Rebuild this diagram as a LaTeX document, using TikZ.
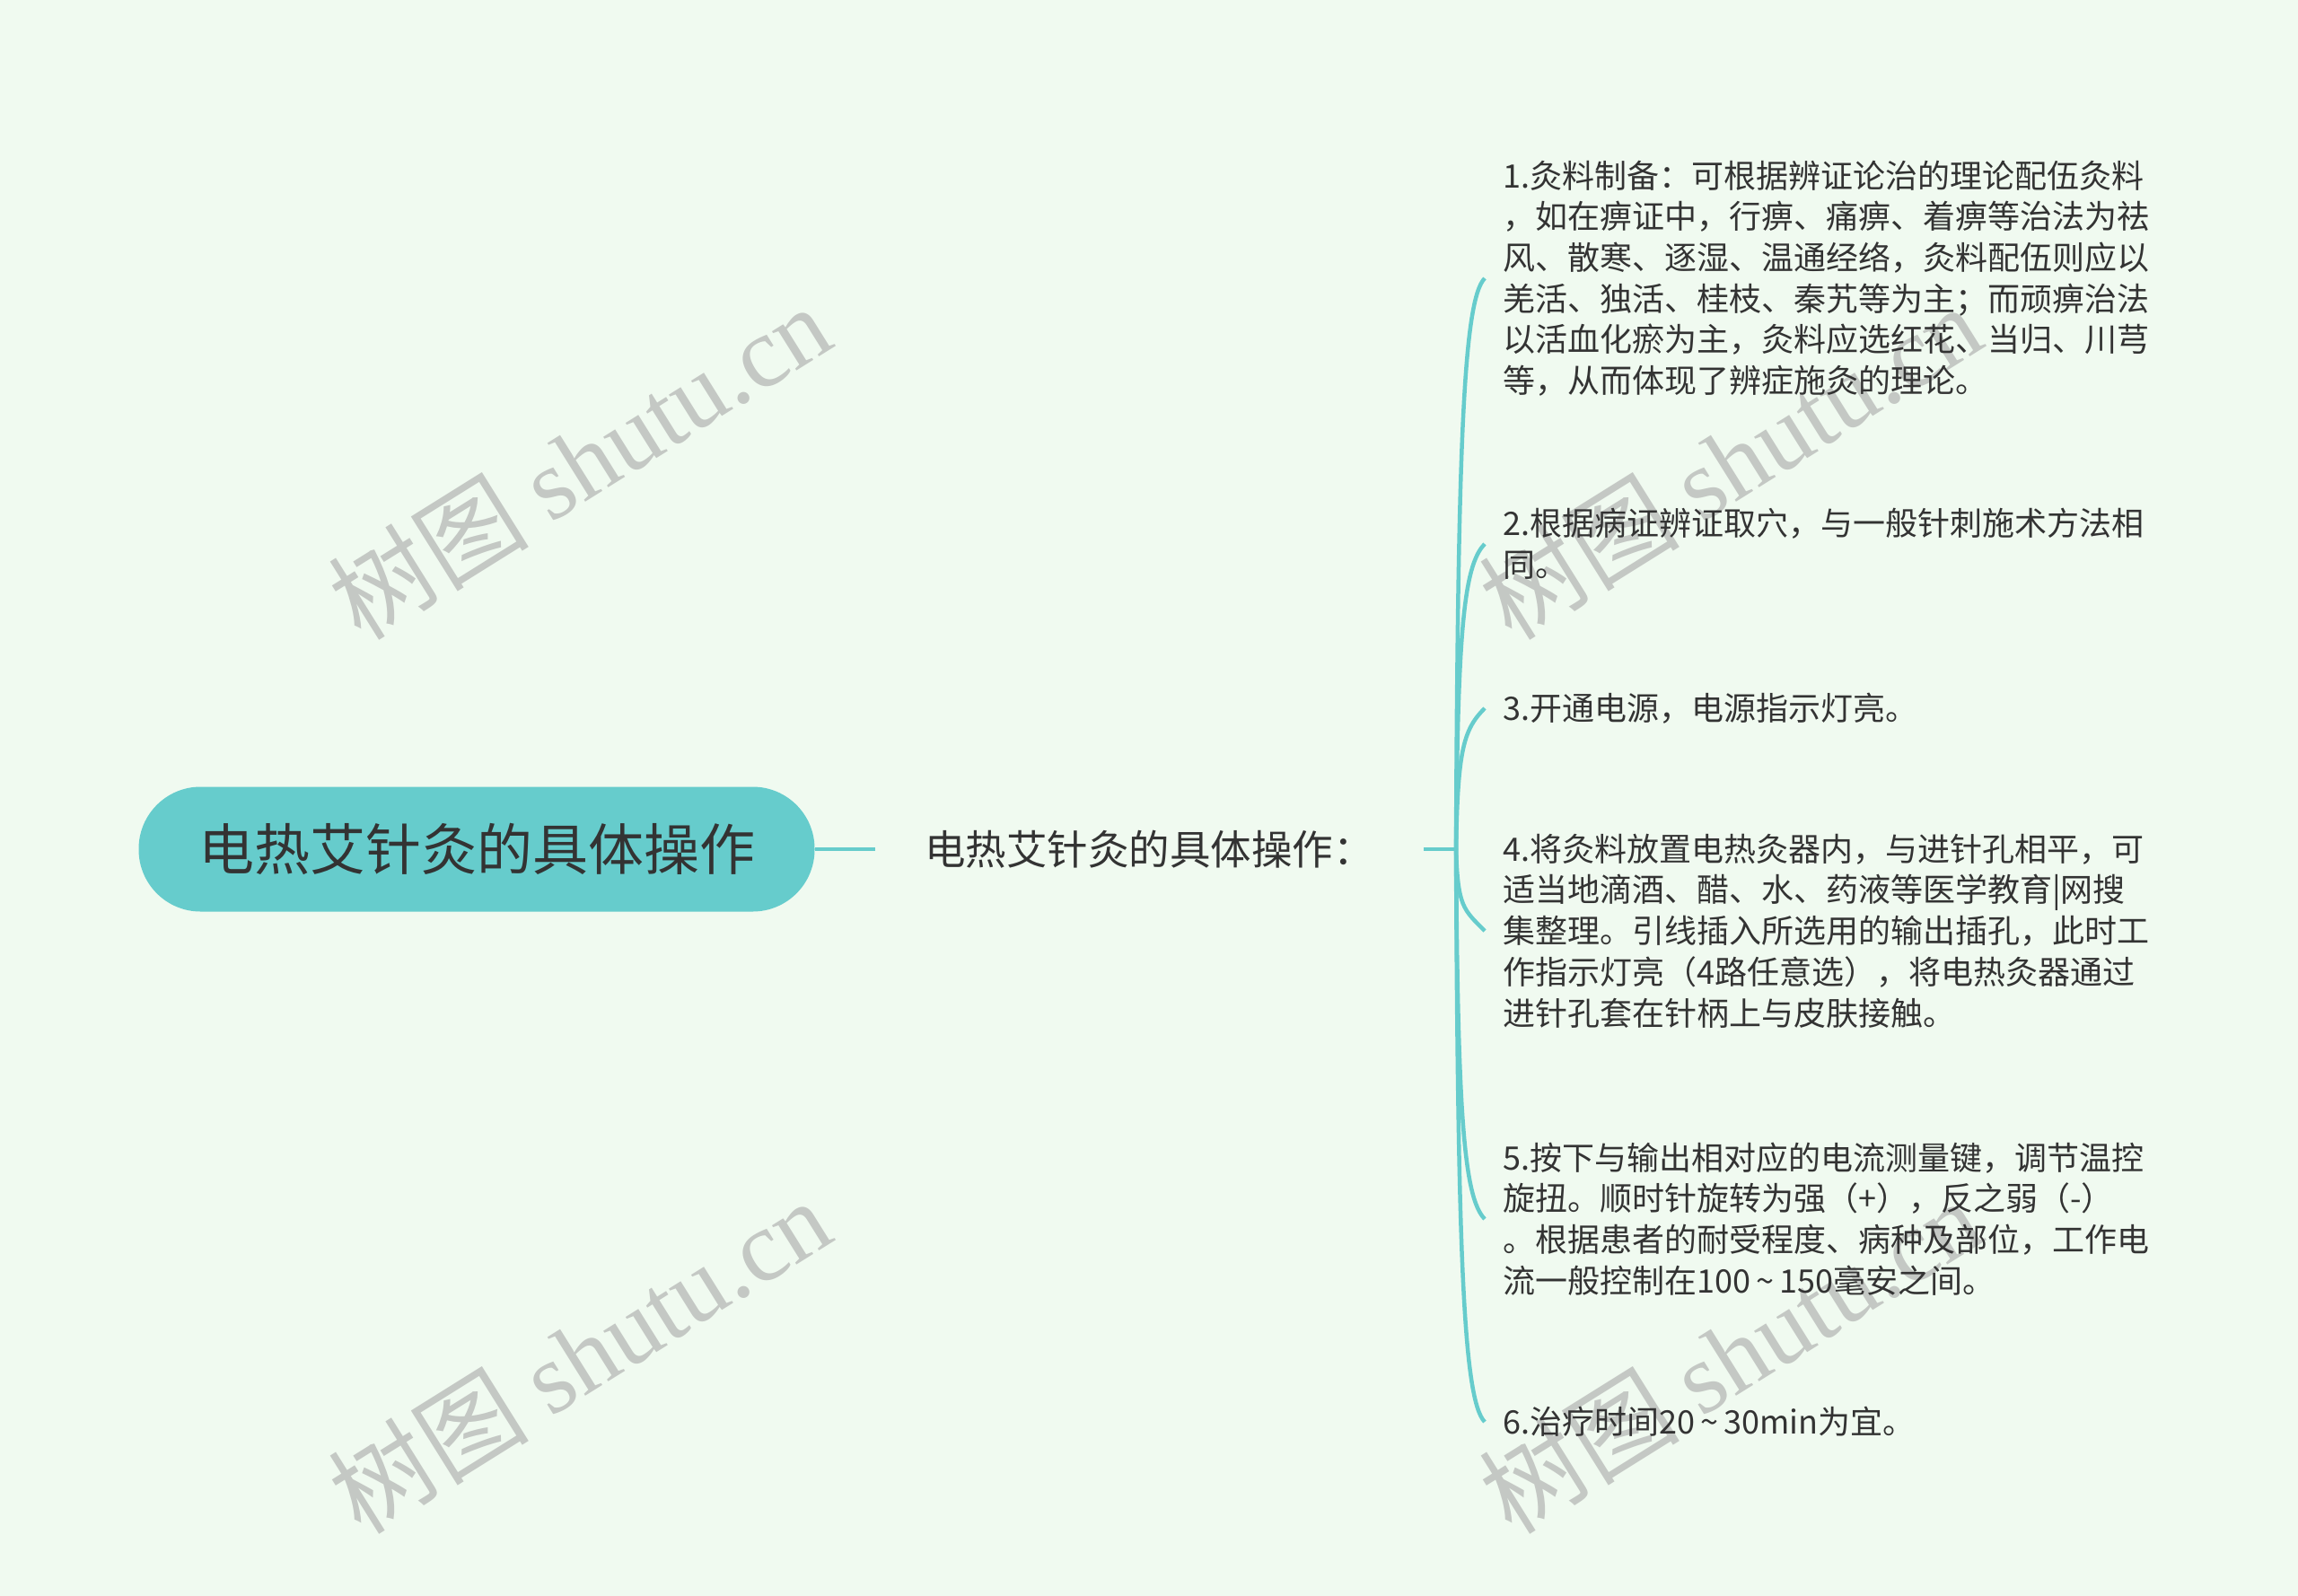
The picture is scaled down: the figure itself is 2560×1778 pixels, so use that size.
\documentclass[tikz,border=0pt]{standalone}
\usepackage{fontspec}
\setmainfont{Noto Sans CJK SC}
\newfontfamily\wmfont{Liberation Serif}
\definecolor{bgcol}{RGB}{240,250,240}
\definecolor{branchcol}{RGB}{102,204,204}
\definecolor{txtcol}{RGB}{51,51,51}
\definecolor{wmcol}{RGB}{196,200,196}

\begin{document}
\begin{tikzpicture}[x=1pt, y=-1pt,
    rootbox/.style={fill=branchcol, rounded corners=69pt, minimum width=753pt, minimum height=139pt, inner sep=0pt, text=txtcol, font=\fontsize{62}{62}\selectfont},
    midlabel/.style={anchor=west, inner xsep=55pt, inner ysep=0pt, text=txtcol, font=\fontsize{45.5}{45.5}\selectfont},
    leaf/.style={anchor=west, inner xsep=20pt, align=left, text=txtcol, font=\fontsize{36}{45.7}\selectfont},
    link/.style={draw=branchcol, line width=4.5pt},
    wmark/.style={text=wmcol, rotate=32, font=\fontsize{112}{112}\selectfont}]
    \useasboundingbox (0,0) rectangle (2560,1778);
    \fill[bgcol] (0,0) rectangle (2560,1778);

    % watermarks
    \node[wmark] (wm1) at (645,514) {树图 {\wmfont shutu.cn}};
    \node[wmark] (wm2) at (645,1510) {树图 {\wmfont shutu.cn}};
    \node[wmark] (wm3) at (1927,514) {树图 {\wmfont shutu.cn}};
    \node[wmark] (wm4) at (1927,1510) {树图 {\wmfont shutu.cn}};

    \node[rootbox] (root) at (531,946) {电热艾针灸的具体操作};
    \node[midlabel] (topic) at (975,946) {电热艾针灸的具体操作：};
    \coordinate (fork) at (1622,946);

    \node[leaf] (prep) at (1654,310) {1.灸料制备：可根据辨证论治的理论配伍灸料\\，如在痹证中，行痹、痛痹、着痹等治法为祛\\风、散寒、逐湿、温通经络，灸料配伍则应以\\羌活、独活、桂枝、秦艽等为主；而顽痹治法\\以活血化瘀为主，灸料应选红花、当归、川芎\\等，从而体现了辨症施灸的理论。};
    \node[leaf] (acup) at (1654,606) {2.根据病证辨证取穴，与一般针刺施术方法相\\同。};
    \node[leaf] (power) at (1654,789) {3.开通电源，电源指示灯亮。};
    \node[leaf] (load) at (1654,1037) {4.将灸料放置电热灸器内，与进针孔相平，可\\适当地滴酒、醋、水、药液等医学教育|网搜\\集整理。引线插入所选用的输出插孔，此时工\\作指示灯亮（4路任意选），将电热灸器通过\\进针孔套在针柄上与皮肤接触。};
    \node[leaf] (adjust) at (1654,1358) {5.按下与输出相对应的电流测量键，调节温控\\旋扭。顺时针旋转为强（+），反之弱（-）\\。根据患者的耐受程度、病种及部位，工作电\\流一般控制在100\,\textasciitilde\,150毫安之间。};
    \node[leaf] (timing) at (1654,1584) {6.治疗时间20\,\textasciitilde\,30min为宜。};

    \draw[link] (root.east) -- (topic.west);
    \draw[link] (topic.east) -- (fork);
    \draw[link] (fork) .. controls (1624,501) and (1630,334) .. (prep.west);
    \draw[link] (fork) .. controls (1624,708) and (1630,630) .. (acup.west);
    \draw[link] (fork) .. controls (1624,836) and (1630,813) .. (power.west);
    \draw[link] (fork) .. controls (1624,1010) and (1630,1013) .. (load.west);
    \draw[link] (fork) .. controls (1624,1234) and (1630,1334) .. (adjust.west);
    \draw[link] (fork) .. controls (1624,1393) and (1630,1560) .. (timing.west);
\end{tikzpicture}
\end{document}
